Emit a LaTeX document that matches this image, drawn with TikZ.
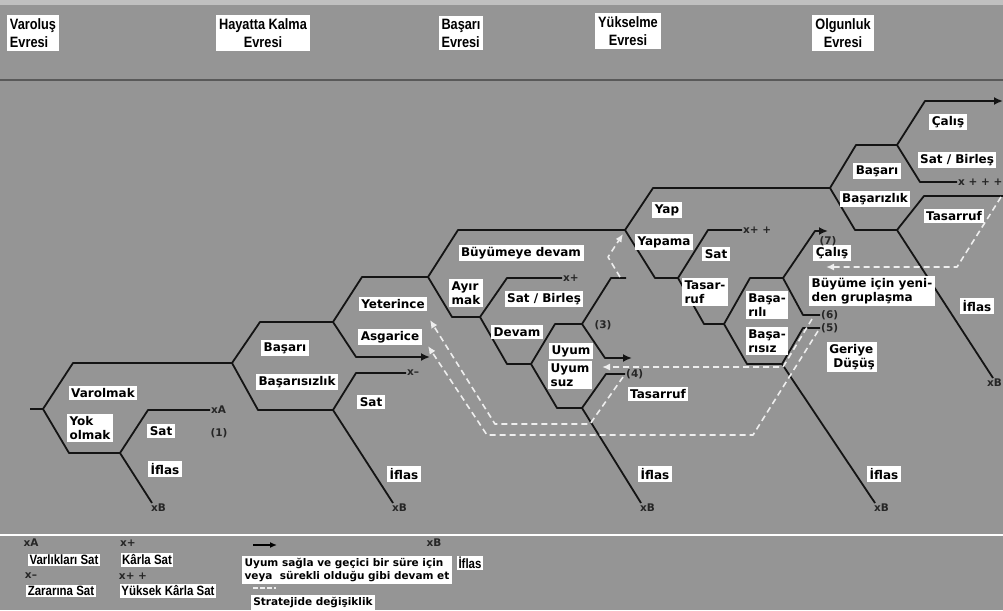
\documentclass[tikz,border=0pt]{standalone}
\usepackage{fontspec}
\usetikzlibrary{arrows.meta}
\newfontfamily\lblfont{DejaVu Sans}
\newfontfamily\narrowfont[FakeStretch=0.85]{Liberation Sans}
\definecolor{bg}{HTML}{959595}
\definecolor{mk}{HTML}{262626}
\definecolor{dsh}{HTML}{EEEEEE}
\tikzset{
  br/.style={line width=1.8pt, draw=black!92, line join=round},
  bra/.style={br, -{Latex[length=9pt,width=8pt]}},
  dl/.style={line width=1.6pt, draw=dsh, dash pattern=on 6pt off 4pt, line join=round, -{Latex[length=8pt,width=7pt]}},
  dln/.style={line width=1.6pt, draw=dsh, dash pattern=on 6pt off 4pt},
  lbl/.style={fill=white, text=black, inner sep=2.5pt, align=left, font={\lblfont\bfseries\fontsize{12}{14}\selectfont}},
  lbs/.style={fill=white, text=black, inner sep=2.5pt, align=left, font={\lblfont\bfseries\fontsize{10.5}{13}\selectfont}},
  lbn/.style={fill=white, text=black, inner sep=1.5pt, align=left, font={\narrowfont\bfseries\fontsize{13.5}{15}\selectfont}},
  phase/.style={fill=white, text=black, inner sep=3pt, font={\narrowfont\bfseries\fontsize{15}{18}\selectfont}},
  tagl/.style={text=mk, inner sep=1pt, font={\lblfont\bfseries\fontsize{10.5}{12}\selectfont}}
}
\begin{document}
\begin{tikzpicture}[x=1pt,y=-1pt]
\fill[bg] (0,0) rectangle (1003,610);
\useasboundingbox (0,0) rectangle (1003,610);
\fill[bg!60!white] (0,0) rectangle (1003,5);
% separators
\draw[line width=1.4pt, black!65] (0,80) -- (1003,80);
\draw[line width=1.6pt, white] (0,535) -- (1003,535);

% phase titles
\node[phase, align=left]   (p1) at (33,33)  {Varoluş\\Evresi};
\node[phase, align=center] (p2) at (263,33) {Hayatta Kalma\\Evresi};
\node[phase, align=left]   (p3) at (461,33) {Başarı\\Evresi};
\node[phase, align=center] (p4) at (628,31) {Yükselme\\Evresi};
\node[phase, align=center] (p5) at (843,33) {Olgunluk\\Evresi};

% ---------- coordinates ----------
\coordinate (s0) at (30,409);
\coordinate (n1) at (43,409);
\coordinate (n2) at (232,363);
\coordinate (n1b) at (120,453);
\coordinate (eA) at (210,410);
\coordinate (eB1) at (152,503);
\coordinate (n3) at (333,322);
\coordinate (n2b) at (333,410);
\coordinate (n4) at (428,277);
\coordinate (eAs) at (430,357);
\coordinate (eXm) at (406,373);
\coordinate (eB2) at (393,503);
\coordinate (n5) at (625,230);
\coordinate (n4b) at (480,317);
\coordinate (eXp) at (562,278);
\coordinate (n4c) at (531,364);
\coordinate (n4d) at (582,324);
\coordinate (n4e) at (582,408);
\coordinate (eStub) at (626,278);
\coordinate (eUy) at (632,358);
\coordinate (e4) at (625,374);
\coordinate (eB3) at (641,503);
\coordinate (n6) at (830,188);
\coordinate (n5b) at (678,278);
\coordinate (eXpp) at (742,230);
\coordinate (n5c) at (724,324);
\coordinate (n5d) at (783,278);
\coordinate (n5e) at (782,364);
\coordinate (e7) at (828,231);
\coordinate (e6) at (820,315);
\coordinate (e5) at (820,328);
\coordinate (eB4) at (875,503);
\coordinate (n7) at (897,145);
\coordinate (n7b) at (897,230);
\coordinate (eTop) at (1003,101);
\coordinate (eXppp) at (957,182);
\coordinate (eTas) at (1003,196);
\coordinate (eB5) at (993,378);

% ---------- tree 1 ----------
\draw[br] (s0) -- (n1);
\draw[br] (n1) -- (73,363) -- (n2);
\draw[br] (n1) -- (69,453) -- (n1b);
\draw[br] (n1b) -- (148,410) -- (eA);
\draw[br] (n1b) -- (eB1);
% ---------- tree 2 ----------
\draw[br] (n2) -- (260,322) -- (n3);
\draw[br] (n2) -- (258,410) -- (n2b);
\draw[br] (n3) -- (362,277) -- (n4);
\draw[bra] (n3) -- (356,357) -- (eAs);
\draw[br] (n2b) -- (356,373) -- (eXm);
\draw[br] (n2b) -- (eB2);
% ---------- tree 3 ----------
\draw[br] (n4) -- (458,230) -- (n5);
\draw[br] (n4) -- (452,317) -- (n4b);
\draw[br] (n4b) -- (507,278) -- (eXp);
\draw[br] (n4b) -- (507,364) -- (n4c);
\draw[br] (n4c) -- (555,324) -- (n4d);
\draw[br] (n4c) -- (557,408) -- (n4e);
\draw[br] (n4d) -- (611,278) -- (eStub);
\draw[bra] (n4d) -- (605,358) -- (eUy);
\draw[br] (n4e) -- (606,374) -- (e4);
\draw[br] (n4e) -- (eB3);
% ---------- tree 4 ----------
\draw[br] (n5) -- (653,188) -- (n6);
\draw[br] (n5) -- (655,278) -- (n5b);
\draw[br] (n5b) -- (708,230) -- (eXpp);
\draw[br] (n5b) -- (704,324) -- (n5c);
\draw[br] (n5c) -- (750,278) -- (n5d);
\draw[br] (n5c) -- (747,364) -- (n5e);
\draw[bra] (n5d) -- (815,231) -- (e7);
\draw[br] (n5d) -- (803,315) -- (e6);
\draw[br] (n5e) -- (803,328) -- (e5);
\draw[br] (n5e) -- (eB4);
% ---------- tree 5 ----------
\draw[br] (n6) -- (856,145) -- (n7);
\draw[br] (n6) -- (855,230) -- (n7b);
\draw[bra] (n7) -- (925,101) -- (eTop);
\draw[br] (n7) -- (920,182) -- (eXppp);
\draw[br] (n7b) -- (924,196) -- (eTas);
\draw[br] (n7b) -- (eB5);

% ---------- dashed strategy-change lines ----------
\coordinate (dA0) at (623,377);
\coordinate (dA1) at (430,320);
\coordinate (dB0) at (818,331);
\coordinate (dB1) at (428,346);
\coordinate (dC0) at (812,319);
\coordinate (dC1) at (602,367);
\coordinate (dD0) at (620,277);
\coordinate (dD1) at (623,234);
\coordinate (dE0) at (1001,197);
\coordinate (dE1) at (826,267);
\draw[dl] (dA0) -- (590,424) -- (495,424) -- (dA1);
\draw[dl] (dB0) -- (753,435) -- (487,435) -- (dB1);
\draw[dl] (dC0) -- (783,367) -- (dC1);
\draw[dl] (dD0) -- (608,257) -- (dD1);
\draw[dl] (dE0) -- (957,267) -- (dE1);

% ---------- labels tree 1 ----------
\node[lbl] (lVarolmak) at (103,393) {Varolmak};
\node[lbl] (lYok) at (90,428) {Yok\\olmak};
\node[lbl] (lSat1) at (161,431) {Sat};
\node[lbl] (lIflas1) at (165,469) {İflas};
\node[tagl, anchor=west] (mA) at (eA) {xA};
\node[tagl] (m1) at (219,433) {(1)};
\node[tagl, anchor=north west] (mB1) at ([xshift=-2pt]eB1) {xB};
% ---------- labels tree 2 ----------
\node[lbl] (lBasari2) at (285,348) {Başarı};
\node[lbl] (lBasarisiz2) at (297,382) {Başarısızlık};
\node[lbl] (lSat2) at (371,402) {Sat};
\node[lbl] (lIflas2) at (404,474) {İflas};
\node[lbl] (lYeter) at (393,304) {Yeterince};
\node[lbl] (lAsg) at (390,337) {Asgarice};
\node[tagl, anchor=west] (mXm) at (eXm) {x–};
\node[tagl, anchor=north west] (mB2) at ([xshift=-2pt]eB2) {xB};
% ---------- labels tree 3 ----------
\node[lbl] (lBuy) at (521,253) {Büyümeye devam};
\node[lbl] (lAyir) at (466,293) {Ayır\\mak};
\node[lbl] (lSatB3) at (544,299) {Sat / Birleş};
\node[lbl] (lDevam) at (517,332) {Devam};
\node[lbl] (lUyum) at (571,351) {Uyum};
\node[lbl] (lUyumsuz) at (570,375) {Uyum\\suz};
\node[lbl] (lTas3) at (658,394) {Tasarruf};
\node[lbl] (lIflas3) at (655,474) {İflas};
\node[tagl, anchor=west] (mXp) at (eXp) {x+};
\node[tagl] (m3) at (603,325) {(3)};
\node[tagl, anchor=west] (m4) at (e4) {(4)};
\node[tagl, anchor=north west] (mB3) at ([xshift=-2pt]eB3) {xB};
% ---------- labels tree 4 ----------
\node[lbl] (lYap) at (667,210) {Yap};
\node[lbl] (lYapama) at (664,242) {Yapama};
\node[lbl] (lSat4) at (716,254) {Sat};
\node[lbl] (lTas4) at (705,292) {Tasar-\\ruf};
\node[lbl] (lBsl) at (767,305) {Başa-\\rılı};
\node[lbl] (lBsz) at (767,341) {Başa-\\rısız};
\node[lbl] (lCal4) at (832,253) {Çalış};
\node[lbl] (lBuyume) at (872,291) {Büyüme için yeni-\\den gruplaşma};
\node[lbl] (lGeri) at (852,357) {Geriye\\\ Düşüş};
\node[lbl] (lIflas4) at (884,474) {İflas};
\node[tagl, anchor=west] (mXpp) at (eXpp) {x+ +};
\node[tagl] (m7) at (828,241) {(7)};
\node[tagl, anchor=west] (m6) at (e6) {(6)};
\node[tagl, anchor=west] (m5) at (e5) {(5)};
\node[tagl, anchor=north west] (mB4) at ([xshift=-2pt]eB4) {xB};
% ---------- labels tree 5 ----------
\node[lbl] (lCal5) at (948,122) {Çalış};
\node[lbl] (lSatB5) at (957,160) {Sat / Birleş};
\node[lbl] (lBasari5) at (877,171) {Başarı};
\node[lbl] (lBasariz5) at (875,199) {Başarızlık};
\node[lbl] (lTas5) at (954,216) {Tasarruf};
\node[lbl] (lIflas5) at (977,306) {İflas};
\node[tagl, anchor=west] (mXppp) at (eXppp) {x + + +};
\node[tagl, anchor=north east] (mB5) at (1003,378) {xB};

% ---------- legend ----------
\node[tagl] (gxA) at (31,543) {xA};
\node[lbn] (gVar) at (64,560) {Varlıkları Sat};
\node[tagl] (gxm) at (31,576) {x–};
\node[lbn] (gZar) at (61,591) {Zararına Sat};
\node[tagl] (gxp) at (128,543) {x+};
\node[lbn] (gKar) at (147,560) {Kârla Sat};
\node[tagl] (gxpp) at (133,576) {x+ +};
\node[lbn] (gYuk) at (168,591) {Yüksek Kârla Sat};
\coordinate (gar0) at (253,545);
\coordinate (gar1) at (277,545);
\draw[line width=1.8pt, black, -{Latex[length=7pt,width=6pt]}] (gar0) -- (gar1);
\node[lbs, align=left] (gUyum) at (347,570) {Uyum sağla ve geçici bir süre için\\veya\ \ sürekli olduğu gibi devam et};
\node[tagl] (gxB) at (434,543) {xB};
\node[lbn] (gIflas) at (470,563) {İflas};
\coordinate (gd0) at (253,588);
\coordinate (gd1) at (276,588);
\draw[dln, line width=1.3pt, dash pattern=on 5pt off 2pt] (gd0) -- (gd1);
\node[lbs] (gStr) at (313,603) {Stratejide değişiklik};
\end{tikzpicture}
\end{document}
